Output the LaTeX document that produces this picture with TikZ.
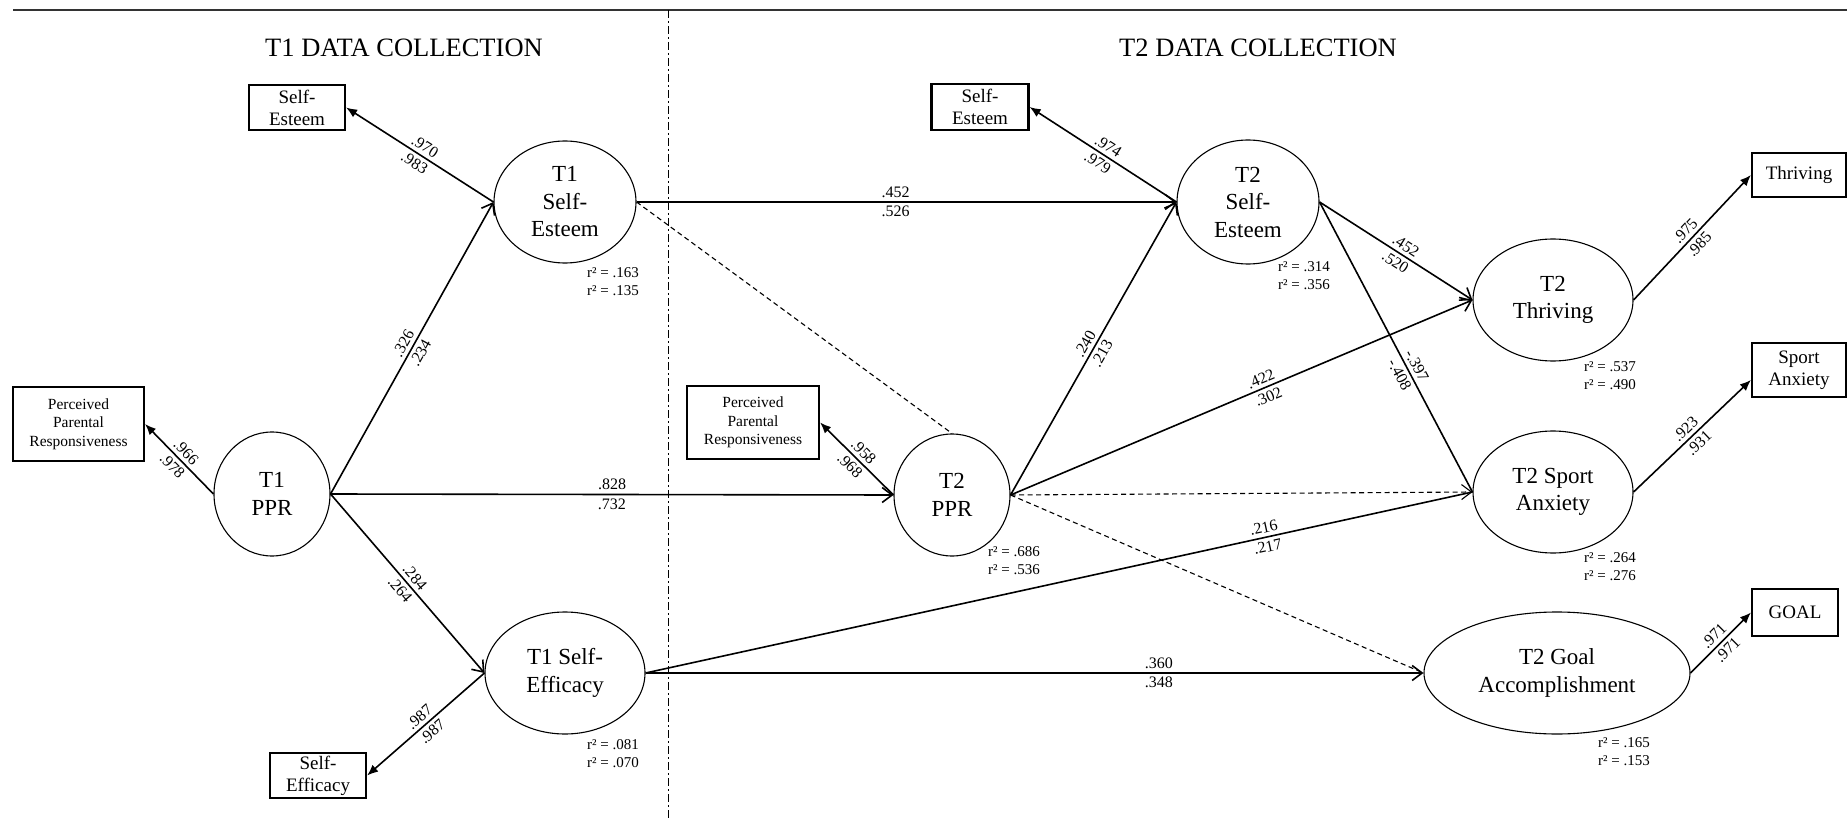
\documentclass[tikz,border=0pt]{standalone}
\usepackage{fontspec}
\setmainfont{Liberation Serif}
\usetikzlibrary{shapes.geometric,arrows.meta}

\begin{document}
\begin{tikzpicture}[
	                   x = 1pt,
	                   y = -1pt,
	     latent/.style = {ellipse, draw, line width=1.1pt, inner sep=0pt, align=center, font=\fontsize{23}{27.5}\selectfont},
	      indic/.style = {rectangle, draw, line width=2.2pt, inner sep=0pt, align=center, font=\fontsize{19}{22}\selectfont},
	   pprindic/.style = {indic, minimum width=131pt, minimum height=74pt, font=\fontsize{15.5}{18.5}\selectfont},
	     effect/.style = {draw, line width=1.6pt, -{Straight Barb[length=10pt,width=15pt]}},
	    loading/.style = {draw, line width=1.6pt, -{Latex[length=11pt,width=9pt]}},
	       nsig/.style = {draw, line width=1.1pt, dashed, dash pattern=on 5pt off 3.5pt},
	       coef/.style = {font=\fontsize{16}{16}\selectfont, sloped, inner sep=3.5pt},
	        rsq/.style = {font=\fontsize{15}{18}\selectfont, align=left, anchor=north west, inner sep=0pt},
	      phase/.style = {font=\fontsize{26.5}{30}\selectfont}
	                     ]
	\useasboundingbox (0,0) rectangle (1847,818);
	\draw[line width=1.5pt, black!80] (13,10) -- (1847,10);
	\draw[line width=0.8pt, dash pattern=on 8pt off 3pt on 2pt off 3pt] (668,10) -- (668,818);

	\node[phase] (t1title) at (404,48) {T1 DATA COLLECTION};
	\node[phase] (t2title) at (1258,48) {T2 DATA COLLECTION};

	\node[latent, minimum width=142pt, minimum height=122pt] (t1se)   at (565,202)  {T1\\Self-\\Esteem};
	\node[latent, minimum width=116pt, minimum height=124pt] (t1ppr)  at (272,494)  {T1\\PPR};
	\node[latent, minimum width=160pt, minimum height=122pt] (t1sef)  at (565,673)  {T1 Self-\\Efficacy};
	\node[latent, minimum width=142pt, minimum height=124pt] (t2se)   at (1248,202) {T2\\Self-\\Esteem};
	\node[latent, minimum width=116pt, minimum height=122pt] (t2ppr)  at (952,495)  {T2\\PPR};
	\node[latent, minimum width=160pt, minimum height=122pt] (t2thr)  at (1553,300) {T2\\Thriving};
	\node[latent, minimum width=160pt, minimum height=122pt] (t2sa)   at (1553,492) {T2 Sport\\Anxiety};
	\node[latent, minimum width=266pt, minimum height=122pt] (t2goal) at (1557,673) {T2 Goal\\Accomplishment};

	\node[indic, minimum width=96pt, minimum height=45pt] (se1box)  at (297,107.5) {Self-\\Esteem};
	\node[pprindic]                                       (ppr1box) at (78.5,424)  {Perceived\\Parental\\Responsiveness};
	\node[indic, minimum width=96pt, minimum height=45pt] (sef1box) at (318,775.5) {Self-\\Efficacy};
	\node[indic, minimum width=97pt, minimum height=46pt] (se2box)  at (980,107)   {Self-\\Esteem};
	\node[pprindic, minimum width=132pt, minimum height=73pt] (ppr2box) at (753,422.5) {Perceived\\Parental\\Responsiveness};
	\node[indic, minimum width=94pt, minimum height=44pt] (thrbox)  at (1799,175)  {Thriving};
	\node[indic, minimum width=94pt, minimum height=54pt] (sabox)   at (1799,370)  {Sport\\Anxiety};
	\node[indic, minimum width=86pt, minimum height=47pt] (goalbox) at (1795,612.5) {GOAL};

	\node[rsq] (r1se)   at (587,267)  {r² = .163\\r² = .135};
	\node[rsq] (r1sef)  at (587,739)  {r² = .081\\r² = .070};
	\node[rsq] (r2ppr)  at (988,546)  {r² = .686\\r² = .536};
	\node[rsq] (r2se)   at (1278,261) {r² = .314\\r² = .356};
	\node[rsq] (r2thr)  at (1584,361) {r² = .537\\r² = .490};
	\node[rsq] (r2sa)   at (1584,552) {r² = .264\\r² = .276};
	\node[rsq] (r2goal) at (1598,737) {r² = .165\\r² = .153};

	\draw[loading] (t1se.west)  -- node[coef, above] {.970} node[coef, below] {.983} (se1box.east);
	\draw[loading] (t1ppr.west) -- node[coef, above] {.966} node[coef, below] {.978} (ppr1box.east);
	\draw[loading] (t1sef.west) -- node[coef, above] {.987} node[coef, below] {.987} (sef1box.east);
	\draw[loading] (t2se.west)  -- node[coef, above] {.974} node[coef, below] {.979} (se2box.east);
	\draw[loading] (t2ppr.west) -- node[coef, above] {.958} node[coef, below] {.968} (ppr2box.east);
	\draw[loading] (t2thr.east) -- node[coef, above] {.975} node[coef, below] {.985} (thrbox.west);
	\draw[loading] (t2sa.east)  -- node[coef, above] {.923} node[coef, below] {.931} ([yshift=-10pt]sabox.west);
	\draw[loading] (t2goal.east) -- node[coef, above] {.971} node[coef, below] {.971} (goalbox.west);

	\draw[effect] (t1ppr.east) -- node[coef, above] {.326} node[coef, below] {.234} (t1se.west);
	\draw[effect] (t1ppr.east) -- node[coef, above] {.284} node[coef, below] {.264} (t1sef.west);
	\draw[effect] (t1ppr.east) -- node[coef, above] {.828} node[coef, below] {.732} (t2ppr.west);
	\draw[effect] (t1se.east) -- node[coef, above, pos=0.48] {.452} node[coef, below, pos=0.48] {.526} (t2se.west);
	\draw[effect] (t2ppr.east) -- node[coef, above] {.240} node[coef, below] {.213} (t2se.west);
	\draw[effect] (t2ppr.east) -- node[coef, above, pos=0.55] {.422} node[coef, below, pos=0.55] {.302} (t2thr.west);
	\draw[effect] (t2se.east) -- node[coef, above, pos=0.53] {.452} node[coef, below, pos=0.53] {.520} (t2thr.west);
	\draw[effect, -] (t2se.east) -- node[coef, above, pos=0.58] {-.397} node[coef, below, pos=0.58] {-.408} (t2sa.west);
	\draw[effect, -] (t1sef.east) -- node[coef, above, pos=0.75] {.216} node[coef, below, pos=0.75] {.217} (t2sa.west);
	\draw[effect] (t1sef.east) -- node[coef, above, pos=0.66] {.360} node[coef, below, pos=0.66] {.348} (t2goal.west);

	\draw[nsig] (t1se.east) -- (t2ppr.north);
	\draw[nsig, -{Straight Barb[length=10pt,width=15pt]}] (t2ppr.east) -- (t2sa.west);
	\draw[nsig] (t2ppr.east) -- (t2goal.west);
\end{tikzpicture}
\end{document}
